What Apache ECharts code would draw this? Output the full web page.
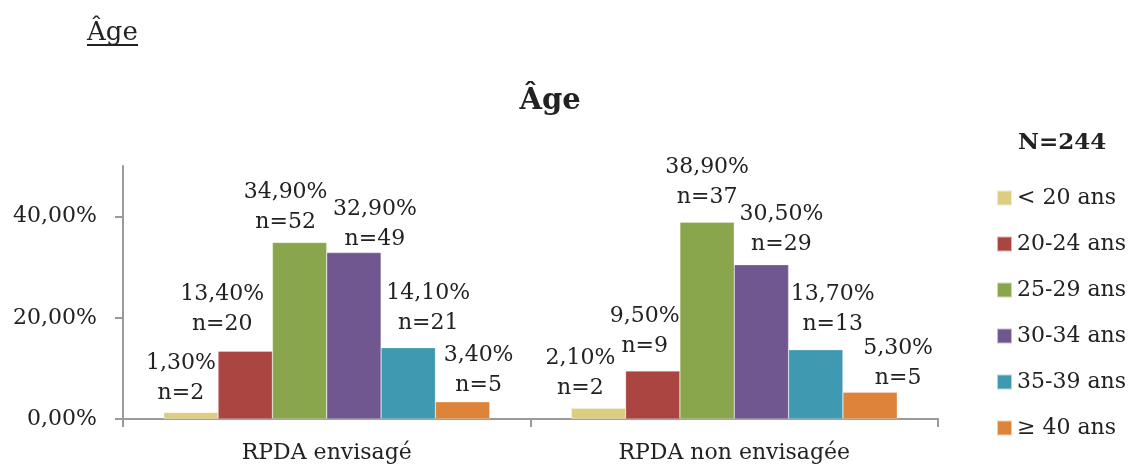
<!DOCTYPE html>
<html>
<head>
<meta charset="utf-8">
<script src="https://cdn.jsdelivr.net/npm/echarts@6/dist/echarts.min.js"></script>
<style>html,body{margin:0;padding:0;background:#fff}#c{width:1132px;height:466px}</style>
</head>
<body>
<div id="c"></div>
<script>
const categories = ['RPDA envisagé', 'RPDA non envisagée'];
const ageGroups = ['< 20 ans', '20-24 ans', '25-29 ans', '30-34 ans', '35-39 ans', '≥ 40 ans'];
const pctEnvisage = [1.3, 13.4, 34.9, 32.9, 14.1, 3.4];
const pctNonEnvisage = [2.1, 9.5, 38.9, 30.5, 13.7, 5.3];
const nEnvisage = [2, 20, 52, 49, 21, 5];
const nNonEnvisage = [2, 9, 37, 29, 13, 5];
const yTicks = [0, 20, 40];
const colors = ['#DDCD80', '#AA4542', '#89A64C', '#71578F', '#3F99B1', '#DE843A'];

// label placement tweaks (as in the original, labels were nudged sideways)
const labelShiftEnvisage = [[-10, 0], [-23, -8], [-14, -1], [21, 6], [20, -5], [16, 2]];
const labelShiftNon = [[-18, -1], [-8, -6], [0, -6], [20, -1], [17, -6], [28, 5]];

const FONT = 'DejaVu Serif';
const fmtPct = v => v.toFixed(2).replace('.', ',') + '%';

const series = ageGroups.map((name, i) => ({
  name: name,
  type: 'bar',
  barGap: '0%',
  barCategoryGap: '20%',
  itemStyle: { color: colors[i], borderColor: 'rgba(255,255,255,0.6)', borderWidth: 0.5 },
  data: [
    { value: pctEnvisage[i], label: { offset: labelShiftEnvisage[i] } },
    { value: pctNonEnvisage[i], label: { offset: labelShiftNon[i] } }
  ],
  label: {
    show: true,
    position: 'top',
    distance: 4,
    fontFamily: FONT,
    fontSize: 22,
    lineHeight: 30,
    color: '#222',
    formatter: p => fmtPct(p.value) + '\n' + 'n=' + (p.dataIndex === 0 ? nEnvisage[i] : nNonEnvisage[i])
  }
}));

const chart = echarts.init(document.getElementById('c'));
chart.setOption({
  animation: false,
  color: colors,
  grid: { left: 123, right: 194, top: 166, bottom: 47, containLabel: false },
  title: {
    text: 'Âge',
    left: 545, top: 82, textAlign: 'center',
    textStyle: { fontFamily: FONT, fontSize: 29, fontWeight: 'bold', color: '#222' }
  },
  legend: {
    orient: 'vertical',
    left: 996, top: 187, padding: 0,
    itemWidth: 15, itemHeight: 15, itemGap: 24,
    icon: 'rect',
    textStyle: { fontFamily: FONT, fontSize: 22, lineHeight: 22, color: '#222' },
    data: ageGroups
  },
  graphic: [
    { type: 'text', left: 87, top: 20, style: { text: 'Âge', font: '26px "DejaVu Serif"', fill: '#222' } },
    { type: 'line', shape: { x1: 87, y1: 45, x2: 138, y2: 45 }, style: { stroke: '#222', lineWidth: 2 } },
    { type: 'text', left: 1018, top: 132, style: { text: 'N=244', font: 'bold 23px "DejaVu Serif"', fill: '#222' } }
  ],
  xAxis: {
    type: 'category',
    data: categories,
    axisLine: { lineStyle: { color: '#9A9A9A', width: 2 } },
    axisTick: { show: true, length: 8, lineStyle: { color: '#9A9A9A', width: 2 } },
    axisLabel: { fontFamily: FONT, fontSize: 22, color: '#222', margin: 23 }
  },
  yAxis: {
    type: 'value',
    min: 0, max: 50, interval: 10,
    splitLine: { show: false },
    axisLine: { show: true, lineStyle: { color: '#9A9A9A', width: 2 } },
    axisTick: { show: true, length: 8, customValues: yTicks, lineStyle: { color: '#9A9A9A', width: 2 } },
    axisLabel: { customValues: yTicks, fontFamily: FONT, fontSize: 22, color: '#222', margin: 26, formatter: v => fmtPct(v) }
  },
  series: series
});
</script>
</body>
</html>
